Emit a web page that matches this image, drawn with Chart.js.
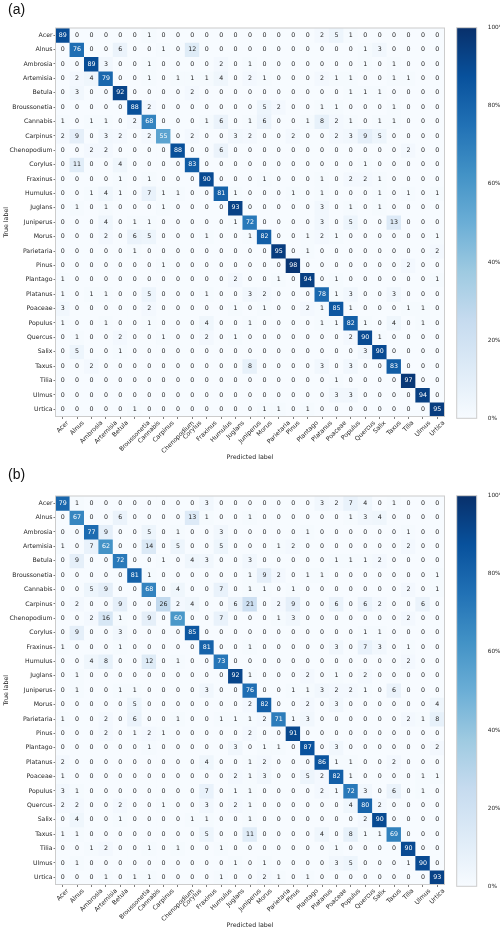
<!DOCTYPE html>
<html>
<head>
<meta charset="utf-8">
<title>Pollen confusion matrices</title>
<style>
body{margin:0;background:#fff;width:500px;height:930px;position:relative;overflow:hidden;}
canvas{position:absolute;}
</style>
</head>
<body>
<canvas id="cmA" width="450" height="465" style="left:0;top:0"></canvas>
<canvas id="cbA" width="50" height="465" style="left:450px;top:0"></canvas>
<canvas id="cmB" width="450" height="465" style="left:0;top:468px"></canvas>
<canvas id="cbB" width="50" height="465" style="left:450px;top:468px"></canvas>
<script src="https://cdn.jsdelivr.net/npm/chart.js"></script>
<script>
const classes = ['Acer','Alnus','Ambrosia','Artemisia','Betula','Broussonetia','Cannabis','Carpinus','Chenopodium','Corylus','Fraxinus','Humulus','Juglans','Juniperus','Morus','Parietaria','Pinus','Plantago','Platanus','Poaceae','Populus','Quercus','Salix','Taxus','Tilia','Ulmus','Urtica'];

// (a) row = true label, column = predicted label, values in %
const matrixA = [
  [89,0,0,0,0,0,1,0,0,0,0,0,0, 0,0,0,0,0,2,5,1,0,0,0,0,0,0],
  [0,76,0,0,6,0,0,1,0,12,0,0,0, 0,0,0,0,0,0,0,0,1,3,0,0,0,0],
  [0,0,89,3,0,0,1,0,0,0,0,2,0, 1,0,0,0,0,0,0,0,1,0,1,0,0,0],
  [0,2,4,79,0,0,1,0,1,1,1,4,0, 2,1,0,0,0,2,1,1,0,0,1,1,0,0],
  [0,3,0,0,92,0,0,0,0,2,0,0,0, 0,0,0,0,0,0,0,1,1,1,0,0,0,0],
  [0,0,0,0,0,88,2,0,0,0,0,0,0, 0,5,2,0,0,1,1,0,0,0,1,0,0,0],
  [1,0,1,1,0,2,68,0,0,0,1,6,0, 1,6,0,0,1,8,2,1,0,1,1,0,0,0],
  [2,9,0,3,2,0,2,55,0,2,0,0,3, 2,0,0,2,0,0,2,3,9,5,0,0,0,0],
  [0,0,2,2,0,0,0,0,88,0,0,6,0, 0,0,0,0,0,0,0,0,0,0,0,2,0,0],
  [0,11,0,0,4,0,0,0,0,83,0,0,0, 0,0,0,0,0,0,0,0,1,0,0,0,0,0],
  [0,0,0,0,1,0,1,0,0,0,90,0,0, 0,1,0,0,0,1,0,2,2,1,0,0,0,0],
  [0,0,1,4,1,0,7,1,1,0,0,81,1, 0,0,0,1,0,1,0,0,0,1,0,1,0,1],
  [0,1,0,1,0,0,0,1,0,0,0,0,93, 0,0,0,0,0,3,0,1,0,1,0,0,0,0],
  [0,0,0,4,0,1,1,0,0,0,0,0,1, 72,0,0,0,0,3,0,5,0,0,13,0,0,0],
  [0,0,0,2,0,6,5,0,0,0,1,0,0, 1,82,0,0,1,2,1,0,0,0,0,0,0,1],
  [0,0,0,0,0,1,0,0,0,0,0,0,0, 0,0,95,0,1,0,0,0,0,0,0,0,0,2],
  [0,0,0,0,0,0,0,1,0,0,0,0,0, 0,0,0,98,0,0,0,0,0,0,0,2,0,0],
  [1,0,0,0,0,0,0,0,0,0,0,0,2, 0,0,1,0,94,0,1,0,0,0,0,0,0,1],
  [1,0,1,1,0,0,5,0,0,0,1,0,0, 3,2,0,0,0,78,1,3,0,0,3,0,0,0],
  [3,0,0,0,0,0,2,0,0,0,0,0,1, 0,1,0,0,2,1,85,1,0,0,0,1,1,0],
  [1,0,0,1,0,0,1,0,0,0,4,0,0, 1,0,0,0,0,1,1,82,1,0,4,0,1,0],
  [0,1,0,0,2,0,0,1,0,0,2,0,1, 0,0,0,0,0,0,0,2,90,1,0,0,0,0],
  [0,5,0,0,1,0,0,0,0,0,0,0,0, 0,0,0,0,0,0,0,0,3,90,0,0,0,0],
  [0,0,2,0,0,0,0,0,0,0,0,0,0, 8,0,0,0,0,3,0,3,0,0,83,0,0,0],
  [0,0,0,0,0,0,0,0,0,0,0,0,0, 0,0,0,0,0,0,1,0,0,0,0,97,0,0],
  [0,0,0,0,0,0,0,0,0,0,0,0,0, 0,0,0,0,0,0,3,3,0,0,0,0,94,0],
  [0,0,0,0,0,1,0,0,0,0,0,0,0, 0,1,1,0,1,0,0,0,0,0,0,0,0,95]
];

// (b)
const matrixB = [
  [79,1,0,0,0,0,0,0,0,0,3,0,0, 0,0,0,0,0,3,2,7,4,0,1,0,0,0],
  [0,67,0,0,6,0,0,0,0,13,1,0,0, 1,0,0,0,0,0,0,1,3,4,0,0,0,0],
  [0,0,77,9,0,0,5,0,1,0,0,3,0, 0,0,0,0,1,0,0,0,0,0,0,1,0,0],
  [1,0,7,62,0,0,14,0,5,0,0,5,0, 0,0,1,2,0,0,0,0,0,0,0,2,0,0],
  [0,9,0,0,72,0,0,1,0,4,3,0,0, 3,0,0,0,0,0,1,1,1,2,0,0,0,0],
  [0,0,0,0,0,81,1,0,0,0,0,0,0, 1,9,2,0,1,1,0,0,0,0,0,0,0,1],
  [0,0,5,9,0,0,68,0,4,0,0,7,0, 1,1,0,1,0,0,0,0,0,0,0,2,0,1],
  [0,2,0,0,9,0,0,26,2,4,0,0,6, 21,0,2,9,0,0,6,0,6,2,0,0,6,0],
  [0,0,2,16,1,0,9,0,60,0,0,7,0, 0,0,1,3,0,0,0,0,0,0,0,2,0,0],
  [0,9,0,0,3,0,0,0,0,85,0,0,0, 0,0,0,0,0,0,0,0,1,1,0,0,0,0],
  [1,0,0,0,1,0,0,0,0,0,81,0,0, 1,0,0,0,0,0,3,0,7,3,0,1,0,0],
  [0,0,4,8,0,0,12,0,1,0,0,73,0, 0,0,0,0,0,0,0,0,0,0,0,2,0,0],
  [0,1,0,0,0,0,0,0,0,0,0,0,92, 1,0,0,0,2,0,1,0,2,0,0,0,0,0],
  [0,1,0,0,1,1,0,0,0,0,3,0,0, 76,0,0,1,1,3,2,2,1,0,6,0,0,0],
  [0,0,0,0,0,5,0,0,0,0,0,0,0, 2,82,0,0,2,0,3,0,0,0,0,0,0,4],
  [1,0,0,2,0,6,0,0,1,0,0,1,1, 1,2,71,1,3,0,0,0,0,0,0,2,1,8],
  [0,0,0,2,0,1,2,1,0,0,0,0,0, 2,0,0,91,0,0,0,0,0,0,0,0,0,0],
  [0,0,0,0,0,0,1,0,0,0,0,0,3, 0,1,1,0,87,0,3,0,0,0,0,0,0,2],
  [2,0,0,0,0,0,0,0,0,0,4,0,0, 1,2,0,0,0,86,1,1,0,0,2,0,0,0],
  [1,0,0,0,0,0,0,0,0,0,0,0,2, 1,3,0,0,5,2,82,1,0,0,0,0,1,1],
  [3,1,0,0,0,0,0,0,0,0,7,0,1, 1,0,0,0,0,2,1,72,3,0,6,0,1,0],
  [2,2,0,0,2,0,0,1,0,0,3,0,2, 1,0,0,0,0,0,0,4,80,2,0,0,0,0],
  [0,4,0,0,1,0,0,0,0,1,1,0,0, 1,0,0,0,0,0,0,0,2,90,0,0,0,0],
  [1,1,0,0,0,0,0,0,0,0,5,0,0, 11,0,0,0,0,4,0,8,1,1,69,0,0,0],
  [0,0,1,2,0,0,1,0,1,0,0,1,0, 0,0,0,0,0,0,1,0,0,0,0,90,0,0],
  [0,1,0,0,0,0,0,0,0,0,0,0,1, 0,1,0,0,0,0,3,5,0,0,0,1,90,0],
  [0,0,0,1,0,1,1,0,0,0,0,1,0, 0,2,1,0,1,0,0,0,0,0,0,0,0,93]
];

const cbTicks = [0,20,40,60,80,100];

const FONT = 'DejaVu Sans';
const INK = '#262626';
const BLUES = ['#f7fbff','#deebf7','#c6dbef','#9ecae1','#6baed6','#4292c6','#2171b5','#08519c','#08306b'];

function hex(c){ return [1,3,5].map(i=>parseInt(c.substr(i,2),16)); }
function blues(t){
  t = Math.max(0, Math.min(1, t));
  const p = t*(BLUES.length-1), i = Math.min(Math.floor(p), BLUES.length-2), f = p-i;
  const a = hex(BLUES[i]), b = hex(BLUES[i+1]);
  return 'rgb('+a.map((v,k)=>Math.round(v+(b[k]-v)*f)).join(',')+')';
}

/* numbers in cells, frame, rotated x labels, panel tag */
function cellPlugin(matrix, tag, tagY){
  return {
    id:'cells',
    afterDatasetsDraw(chart){
      const ctx = chart.ctx, area = chart.chartArea, xs = chart.scales.x;
      ctx.save();
      ctx.font = '6.3px "'+FONT+'"';
      ctx.textAlign = 'center';
      ctx.textBaseline = 'middle';
      matrix.forEach((row,i)=>{
        chart.getDatasetMeta(i).data.forEach((bar,j)=>{
          ctx.fillStyle = row[j] > 50 ? '#ffffff' : INK;
          ctx.fillText(String(row[j]), bar.x, (bar.y+bar.base)/2);
        });
      });
      ctx.strokeStyle = '#cccccc';
      ctx.lineWidth = 1;
      ctx.strokeRect(area.left, area.top, area.right-area.left, area.bottom-area.top);

      // x tick labels, rotated 45deg and centred under the tick
      ctx.font = '6.2px "'+FONT+'"';
      ctx.fillStyle = INK;
      const y0 = area.bottom + 3, h = 6.2*1.15;
      classes.forEach((c,i)=>{
        const w = ctx.measureText(c).width, d = (w+h)/(2*Math.SQRT2);
        ctx.save();
        ctx.translate(xs.getPixelForValue(i), y0+d);
        ctx.rotate(-Math.PI/4);
        ctx.fillText(c, 0, 0);
        ctx.restore();
      });

      ctx.font = '14px "Liberation Sans", Arial, sans-serif';
      ctx.textAlign = 'left';
      ctx.fillStyle = '#111';
      ctx.fillText(tag, 8, tagY);
      ctx.restore();
    }
  };
}

function makePanel(id, matrix, tag, tagY){
  return new Chart(document.getElementById(id), {
    type:'bar',
    data:{
      labels: classes,
      datasets: matrix.map((row,i)=>({
        data: row.map(()=>[i, i+1]),
        backgroundColor: row.map(v=>blues(v/100)),
        borderWidth:0, barPercentage:1, categoryPercentage:1, grouped:false
      }))
    },
    options:{
      responsive:false, animation:false,
      layout:{padding:{left:0, top:28, right:5.5, bottom:0}},
      plugins:{legend:{display:false}, tooltip:{enabled:false}},
      scales:{
        x:{
          grid:{offset:false, drawOnChartArea:false, tickLength:2.5, color:INK, lineWidth:0.6},
          border:{display:false},
          ticks:{display:false},
          title:{display:true, text:'Predicted label', color:INK, font:{family:FONT, size:6.3}, padding:{top:0, bottom:4}},
          afterFit:s=>{ s.height = 48.5; }
        },
        y:{
          type:'linear', min:0, max:classes.length, reverse:true,
          afterBuildTicks:s=>{ s.ticks = classes.map((c,i)=>({value:i+0.5})); },
          ticks:{autoSkip:false, callback:(v,i)=>classes[i], color:INK, font:{family:FONT, size:6.2}, padding:1},
          grid:{drawOnChartArea:false, tickLength:2, color:INK, lineWidth:0.6},
          border:{display:false},
          title:{display:true, text:'True label', color:INK, font:{family:FONT, size:6.3}, padding:{top:2.8, bottom:0}},
          afterFit:s=>{ s.width = 55.5; }
        }
      }
    },
    plugins:[cellPlugin(matrix, tag, tagY)]
  });
}

const cbFrame = {
  id:'cbFrame',
  afterDatasetsDraw(chart){
    const a = chart.chartArea, ctx = chart.ctx;
    ctx.save();
    ctx.strokeStyle = '#cccccc';
    ctx.lineWidth = 1;
    ctx.strokeRect(a.left, a.top, a.right-a.left, a.bottom-a.top);
    ctx.restore();
  }
};

function makeColorbar(id){
  return new Chart(document.getElementById(id), {
    type:'bar',
    data:{
      labels:['cb'],
      datasets:[{
        data:[[cbTicks[0], cbTicks[cbTicks.length-1]]],
        backgroundColor:c=>{
          const a = c.chart.chartArea;
          if(!a) return BLUES[0];
          const g = c.chart.ctx.createLinearGradient(0, a.bottom, 0, a.top);
          BLUES.forEach((col,k)=>g.addColorStop(k/(BLUES.length-1), col));
          return g;
        },
        borderWidth:0, barPercentage:1, categoryPercentage:1
      }]
    },
    options:{
      responsive:false, animation:false,
      layout:{padding:{left:6.7, top:27.7, right:0, bottom:46.7}},
      plugins:{legend:{display:false}, tooltip:{enabled:false}},
      scales:{
        x:{display:false},
        y:{
          position:'right', min:0, max:100,
          afterBuildTicks:s=>{ s.ticks = cbTicks.map(v=>({value:v})); },
          ticks:{callback:v=>v+'%', color:INK, font:{family:FONT, size:5.8}, padding:3},
          grid:{display:false},
          border:{display:false},
          afterFit:s=>{ s.width = 23.3; }
        }
      }
    },
    plugins:[cbFrame]
  });
}

makePanel('cmA', matrixA, '(a)', 10.5);
makeColorbar('cbA');
makePanel('cmB', matrixB, '(b)', 7);
makeColorbar('cbB');
</script>
</body>
</html>
